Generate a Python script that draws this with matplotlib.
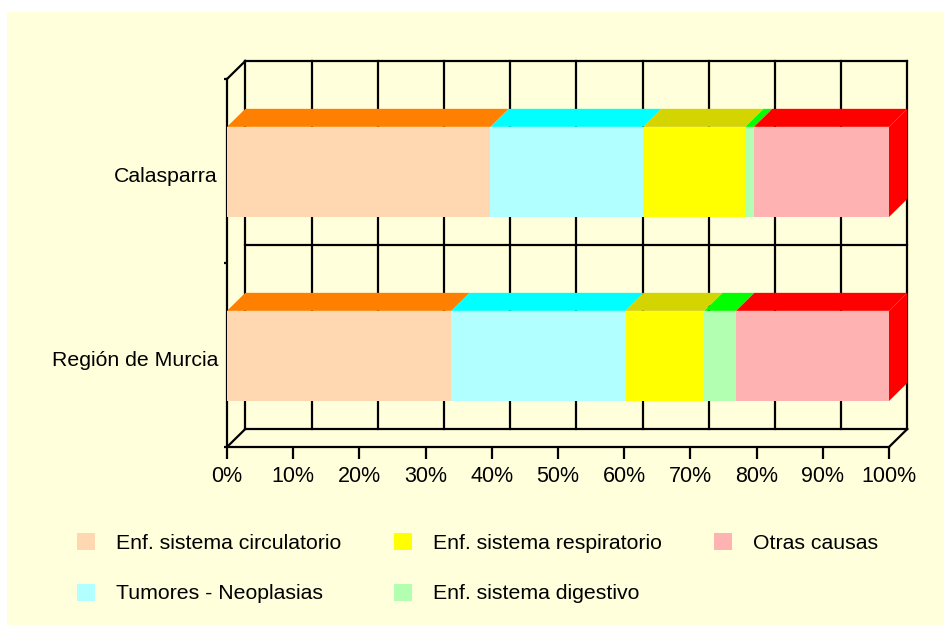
import matplotlib
matplotlib.use("Agg")
import matplotlib.pyplot as plt
from matplotlib.patches import Polygon, Rectangle, Patch

plt.rcParams['font.family'] = ['Liberation Sans', 'DejaVu Sans']

# --- datos (porcentaje de defunciones por causa) ---
regiones = ["Región de Murcia", "Calasparra"]
causas = ["Enf. sistema circulatorio", "Tumores - Neoplasias", "Enf. sistema respiratorio",
          "Enf. sistema digestivo", "Otras causas"]
murcia = [33.9, 26.3, 11.9, 4.8, 23.1]
calasparra = [39.8, 23.1, 15.4, 1.3, 20.4]
valores = [murcia, calasparra]
xticks = list(range(0, 101, 10))
xlabels = [f"{t}%" for t in xticks]

col_frente = ["#FFD8B2", "#B2FFFF", "#FFFF00", "#B2FFB2", "#FFB2B2"]
col_arriba = ["#FF8000", "#00FFFF", "#D4D400", "#00FF00", "#FF0000"]
col_fondo = "#FFFFDB"
fs = 15.3

W, H = 944, 625
fig = plt.figure(figsize=(W / 100, H / 100), dpi=100, facecolor="white")
fig.patches.append(Rectangle((7 / W, 0), 1, 1 - 12 / H, transform=fig.transFigure,
                             facecolor=col_fondo, edgecolor="none", zorder=-5))

# plano frontal del grafico
x0, x1, ytop, ybot = 227, 889, 79, 447
ax = fig.add_axes([x0 / W, 1 - ybot / H, (x1 - x0) / W, (ybot - ytop) / H])
ax.set_zorder(2)
ax.set_facecolor("none")
ax.set_xlim(0, 100)
ax.set_ylim(0, 2)

# profundidad 3D (en unidades de datos)
dx = 18.3 / (x1 - x0) * 100
dy = 18.0 / ((ybot - ytop) / 2)

lw = 1.6
kw = dict(color="black", lw=lw, clip_on=False, zorder=1, solid_capstyle="projecting")
# pared del fondo: rejilla
for t in xticks:
    ax.plot([t + dx, t + dx], [dy, 2 + dy], **kw)
for yy in [0, 1, 2]:
    ax.plot([dx, 100 + dx], [yy + dy, yy + dy], **kw)
# pared izquierda y suelo
ax.plot([0, dx], [2, 2 + dy], **kw)
ax.plot([0, dx], [0, dy], **kw)
ax.plot([100, 100 + dx], [0, dy], **kw)

# barras 3D apiladas
alto = 0.49
for i, vals in enumerate(valores):
    yc = i + 0.495
    yb, yt = yc - alto / 2, yc + alto / 2
    izq = 0
    for j, v in enumerate(vals):
        der = izq + v
        ax.add_patch(Rectangle((izq, yb), v, alto, facecolor=col_frente[j],
                               edgecolor="none", zorder=3, clip_on=False))
        ax.add_patch(Polygon([(izq, yt), (der, yt), (der + dx, yt + dy), (izq + dx, yt + dy)],
                             closed=True, facecolor=col_arriba[j], edgecolor="none",
                             zorder=3, clip_on=False))
        izq = der
    ax.add_patch(Polygon([(izq, yb), (izq + dx, yb + dy), (izq + dx, yt + dy), (izq, yt)],
                         closed=True, facecolor=col_arriba[-1], edgecolor="none",
                         zorder=3, clip_on=False))

# ejes
for s in ["top", "right"]:
    ax.spines[s].set_visible(False)
for s in ["left", "bottom"]:
    ax.spines[s].set_linewidth(lw)
    ax.spines[s].set_zorder(2)
ax.set_xticks(xticks)
ax.set_xticklabels(xlabels, fontsize=15.5)
ax.tick_params(axis="x", length=8.5, width=lw, pad=5.5)
ax.set_yticks([i + 0.48 for i in range(len(regiones))])
ax.set_yticklabels(regiones, fontsize=fs)
ax.set_yticks([0, 1, 2], minor=True)
ax.tick_params(axis="y", which="major", length=0, pad=6.5)
ax.tick_params(axis="y", which="minor", length=2, width=lw)

# leyenda
handles = [Patch(facecolor=c, edgecolor="none") for c in col_frente]
fig.legend(handles, causas, loc="upper left", bbox_to_anchor=(77 / W, 1 - 533 / H),
           ncol=3, frameon=False, fontsize=15.3, borderpad=0, borderaxespad=0,
           handlelength=0.85, handleheight=0.85, handletextpad=1.0,
           columnspacing=2.45, labelspacing=1.45)

fig.savefig("out.png", dpi=100, facecolor="white")
